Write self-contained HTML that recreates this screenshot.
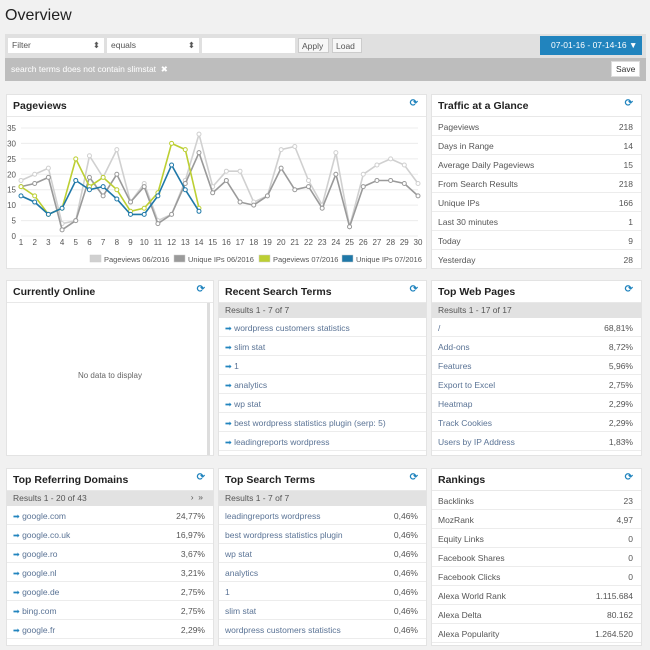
<!DOCTYPE html>
<html><head><meta charset="utf-8"><style>
*{box-sizing:border-box;margin:0;padding:0}
body{width:650px;height:650px;background:#f1f1f1;font-family:"Liberation Sans",sans-serif;position:relative;overflow:hidden;color:#555}
.abs{position:absolute}
.panel{position:absolute;background:#fff;border:1px solid #e3e3e3;overflow:hidden}
.ph{height:22px;border-bottom:1px solid #e8e8e8;font-weight:bold;font-size:10.5px;color:#222;padding:5px 0 0 6px;position:relative}
.ph .r{position:absolute;right:8px;top:3px;color:#2184be;font-size:10px}
.rb{height:15px;background:#e2e2e2;font-size:8.5px;color:#555;padding:2px 0 0 6px;position:relative}
.row{height:19px;border-bottom:1px solid #ececec;font-size:8.5px;color:#555;padding:5px 10px 0 6px;position:relative;white-space:nowrap}
.row .v{position:absolute;right:8px;top:5px;color:#555}
.lk{color:#5a7395}
.ic{color:#2184be;font-size:8px}
</style></head><body>
<div class="abs" style="left:5px;top:7px;font-size:16px;color:#222">Overview</div>
<div class="abs" style="left:5px;top:34px;width:641px;height:24px;background:#e0e0e0"></div>
<div class="abs" style="left:8px;top:38px;width:96px;height:15px;background:#fff;font-size:8.5px;padding:2px 4px">Filter<span style="float:right">⬍</span></div>
<div class="abs" style="left:107px;top:38px;width:92px;height:15px;background:#fff;font-size:8.5px;padding:2px 4px">equals<span style="float:right">⬍</span></div>
<div class="abs" style="left:202px;top:38px;width:93px;height:15px;background:#fff"></div>
<div class="abs" style="left:298px;top:38px;width:31px;height:15px;background:#f7f7f7;border:1px solid #ccc;font-size:8.5px;padding:2px 3px">Apply</div>
<div class="abs" style="left:332px;top:38px;width:30px;height:15px;background:#f7f7f7;border:1px solid #ccc;font-size:8.5px;padding:2px 3px">Load</div>
<div class="abs" style="left:540px;top:36px;width:102px;height:19px;background:#2184be;color:#fff;font-size:8.5px;padding:4px 0 0 11px">07-01-16 - 07-14-16 ▼</div>
<div class="abs" style="left:5px;top:58px;width:641px;height:23px;background:#bdbdbd;color:#fff;font-size:8.5px;padding:6px 0 0 6px">search terms does not contain slimstat &nbsp;✖</div>
<div class="abs" style="left:611px;top:61px;width:29px;height:16px;background:#fff;border:1px solid #ddd;font-size:8.5px;padding:2px 4px;color:#333">Save</div>

<div class="panel" style="left:6px;top:94px;width:421px;height:175px"><div class="ph">Pageviews<span class="r">⟳</span></div></div>
<svg class="abs" style="left:0;top:0" width="650" height="650" id="ch"></svg>

<div class="panel" style="left:431px;top:94px;width:211px;height:175px"><div class="ph">Traffic at a Glance<span class="r">⟳</span></div>
<div class="row">Pageviews<span class="v">218</span></div>
<div class="row">Days in Range<span class="v">14</span></div>
<div class="row">Average Daily Pageviews<span class="v">15</span></div>
<div class="row">From Search Results<span class="v">218</span></div>
<div class="row">Unique IPs<span class="v">166</span></div>
<div class="row">Last 30 minutes<span class="v">1</span></div>
<div class="row">Today<span class="v">9</span></div>
<div class="row">Yesterday<span class="v">28</span></div></div>

<div class="panel" style="left:6px;top:280px;width:208px;height:176px"><div class="ph">Currently Online<span class="r">⟳</span></div>
<div class="abs" style="left:0;top:22px;width:203px;height:154px;border-right:3px solid #ddd"></div>
<div style="text-align:center;font-size:8px;color:#666;margin-top:68px">No data to display</div></div>

<div class="panel" style="left:218px;top:280px;width:209px;height:176px"><div class="ph">Recent Search Terms<span class="r">⟳</span></div>
<div class="rb">Results 1 - 7 of 7</div>
<div class="row lk"><span class="ic">➡</span> wordpress customers statistics</div>
<div class="row lk"><span class="ic">➡</span> slim stat</div>
<div class="row lk"><span class="ic">➡</span> 1</div>
<div class="row lk"><span class="ic">➡</span> analytics</div>
<div class="row lk"><span class="ic">➡</span> wp stat</div>
<div class="row lk"><span class="ic">➡</span> best wordpress statistics plugin (serp: 5)</div>
<div class="row lk"><span class="ic">➡</span> leadingreports wordpress</div></div>

<div class="panel" style="left:431px;top:280px;width:211px;height:176px"><div class="ph">Top Web Pages<span class="r">⟳</span></div>
<div class="rb">Results 1 - 17 of 17</div>
<div class="row lk">/<span class="v">68,81%</span></div>
<div class="row lk">Add-ons<span class="v">8,72%</span></div>
<div class="row lk">Features<span class="v">5,96%</span></div>
<div class="row lk">Export to Excel<span class="v">2,75%</span></div>
<div class="row lk">Heatmap<span class="v">2,29%</span></div>
<div class="row lk">Track Cookies<span class="v">2,29%</span></div>
<div class="row lk">Users by IP Address<span class="v">1,83%</span></div></div>

<div class="panel" style="left:6px;top:468px;width:208px;height:178px"><div class="ph">Top Referring Domains<span class="r">⟳</span></div>
<div class="rb">Results 1 - 20 of 43<span style="position:absolute;right:10px;top:1px">›&nbsp; »</span></div>
<div class="row lk"><span class="ic">➡</span> google.com<span class="v">24,77%</span></div>
<div class="row lk"><span class="ic">➡</span> google.co.uk<span class="v">16,97%</span></div>
<div class="row lk"><span class="ic">➡</span> google.ro<span class="v">3,67%</span></div>
<div class="row lk"><span class="ic">➡</span> google.nl<span class="v">3,21%</span></div>
<div class="row lk"><span class="ic">➡</span> google.de<span class="v">2,75%</span></div>
<div class="row lk"><span class="ic">➡</span> bing.com<span class="v">2,75%</span></div>
<div class="row lk"><span class="ic">➡</span> google.fr<span class="v">2,29%</span></div></div>

<div class="panel" style="left:218px;top:468px;width:209px;height:178px"><div class="ph">Top Search Terms<span class="r">⟳</span></div>
<div class="rb">Results 1 - 7 of 7</div>
<div class="row lk">leadingreports wordpress<span class="v">0,46%</span></div>
<div class="row lk">best wordpress statistics plugin<span class="v">0,46%</span></div>
<div class="row lk">wp stat<span class="v">0,46%</span></div>
<div class="row lk">analytics<span class="v">0,46%</span></div>
<div class="row lk">1<span class="v">0,46%</span></div>
<div class="row lk">slim stat<span class="v">0,46%</span></div>
<div class="row lk">wordpress customers statistics<span class="v">0,46%</span></div></div>

<div class="panel" style="left:431px;top:468px;width:211px;height:178px"><div class="ph">Rankings<span class="r">⟳</span></div>
<div class="row">Backlinks<span class="v">23</span></div>
<div class="row">MozRank<span class="v">4,97</span></div>
<div class="row">Equity Links<span class="v">0</span></div>
<div class="row">Facebook Shares<span class="v">0</span></div>
<div class="row">Facebook Clicks<span class="v">0</span></div>
<div class="row">Alexa World Rank<span class="v">1.115.684</span></div>
<div class="row">Alexa Delta<span class="v">80.162</span></div>
<div class="row">Alexa Popularity<span class="v">1.264.520</span></div></div>

<script>
var s='',X=function(i){return 21+(i-1)*13.69},Y=function(v){return 236-v*3.086};
for(var v=0;v<=35;v+=5){s+='<line x1="21" x2="418" y1="'+Y(v)+'" y2="'+Y(v)+'" stroke="#ececec"/>';
s+='<text x="16" y="'+(Y(v)+3)+'" font-size="8" text-anchor="end" fill="#555" font-family="Liberation Sans">'+v+'</text>';}
for(var i=1;i<=30;i++)s+='<text x="'+X(i)+'" y="245" font-size="8" text-anchor="middle" fill="#555" font-family="Liberation Sans">'+i+'</text>';
var D=[[[18,20,22,4,5,26,19,28,11,17,5,7,18,33,16,21,21,11,13,28,29,18,10,27,3,20,23,25,23,17],'#d0d0d0'],
[[16,17,19,2,5,19,13,20,11,16,4,7,17,27,14,18,11,10,13,22,15,16,9,20,3,16,18,18,17,13],'#9a9a9a'],
[[16,13,7,9,25,16,19,15,8,9,14,30,28,9],'#bccf33'],
[[13,11,7,9,18,15,16,12,7,7,13,23,15,8],'#1f78a8']];
D.forEach(function(d){var p=d[0].map(function(v,i){return X(i+1).toFixed(1)+','+Y(v).toFixed(1)}).join(' ');
s+='<polyline points="'+p+'" fill="none" stroke="'+d[1]+'" stroke-width="1.6"/>';
d[0].forEach(function(v,i){s+='<circle cx="'+X(i+1)+'" cy="'+Y(v)+'" r="2" fill="#fff" stroke="'+d[1]+'" stroke-width="1"/>'});});
var L=[[90,'Pageviews 06/2016','#d0d0d0'],[174,'Unique IPs 06/2016','#9a9a9a'],[259,'Pageviews 07/2016','#bccf33'],[342,'Unique IPs 07/2016','#1f78a8']];
L.forEach(function(l){s+='<rect x="'+l[0]+'" y="255" width="11" height="7" fill="'+l[2]+'" stroke="#ccc" stroke-width="0.5"/><text x="'+(l[0]+14)+'" y="262" font-size="7.5" fill="#555" font-family="Liberation Sans">'+l[1]+'</text>'});
document.getElementById('ch').innerHTML=s;
</script>
</body></html>
